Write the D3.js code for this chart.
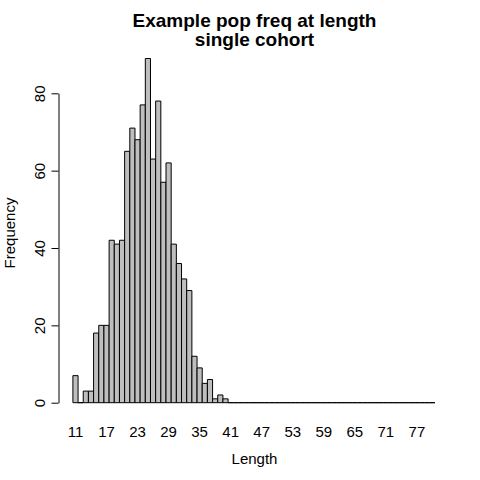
<!DOCTYPE html>
<html>
<head>
<meta charset="utf-8">
<script src="https://cdn.jsdelivr.net/npm/d3@7"></script>
<style>
  html, body { margin: 0; padding: 0; background: #fff; }
  text { font-family: "Liberation Sans", Arial, Helvetica, sans-serif; fill: #000; }
</style>
</head>
<body>
<svg id="chart" width="480" height="480"></svg>
<script>
// Data
const lengths = d3.range(11, 81); // 11..80
const freqs = [
  7, 0, 3, 3, 18, 20, 20, 42, 41, 42,
  65, 71, 68, 77, 89, 63, 78, 57, 62, 41,
  36, 32, 29, 12, 9, 5, 6, 1, 2, 1,
  0, 0, 0, 0, 0, 0, 0, 0, 0, 0,
  0, 0, 0, 0, 0, 0, 0, 0, 0, 0,
  0, 0, 0, 0, 0, 0, 0, 0, 0, 0,
  0, 0, 0, 0, 0, 0, 0, 0, 0, 0
];
const xTickLabels = [11, 17, 23, 29, 35, 41, 47, 53, 59, 65, 71, 77];
const yTicks = [0, 20, 40, 60, 80];
const titleLines = ["Example pop freq at length", "single cohort"];
const xLabel = "Length";
const yLabel = "Frequency";

const svg = d3.select("#chart");
const x = d3.scaleLinear().domain([10.5, 80.5]).range([72.9, 435]);
const y = d3.scaleLinear().domain([0, 80]).range([402.7, 93.3]);

// bars (paths so zero-height bars still draw as a line)
svg.append("g").selectAll("path")
  .data(lengths.map((l, i) => ({l, f: freqs[i]})))
  .join("path")
  .attr("d", d => {
    const x0 = x(d.l - 0.5), x1 = x(d.l + 0.5), y0 = y(0), y1 = y(d.f);
    return `M${x0},${y0}H${x1}V${y1}H${x0}Z`;
  })
  .attr("fill", "#bebebe")
  .attr("stroke", "#000")
  .attr("stroke-width", 1);

// y axis
const yAxis = d3.axisLeft(y).tickValues(yTicks).tickSize(7).tickSizeOuter(0);
const gy = svg.append("g").attr("transform", "translate(58.5,0)").call(yAxis);
gy.select(".domain").attr("stroke", "#000");
gy.selectAll(".tick line").attr("stroke", "#000");
gy.selectAll(".tick text").remove();
gy.selectAll(".tick").append("text")
  .attr("transform", "translate(-14,0) rotate(-90)")
  .attr("text-anchor", "middle")
  .attr("font-size", "15px")
  .text(d => d);

// x tick labels (no ticks, no line)
svg.append("g").selectAll("text")
  .data(xTickLabels)
  .join("text")
  .attr("x", d => x(d))
  .attr("y", 437)
  .attr("text-anchor", "middle")
  .attr("font-size", "15px")
  .text(d => d);

// titles
svg.append("g").selectAll("text")
  .data(titleLines)
  .join("text")
  .attr("x", 254.5)
  .attr("y", (d, i) => 27 + i * 19)
  .attr("text-anchor", "middle")
  .attr("font-size", "19px")
  .attr("font-weight", "bold")
  .text(d => d);

svg.append("text")
  .attr("x", 254.5).attr("y", 464)
  .attr("text-anchor", "middle")
  .attr("font-size", "15px")
  .text(xLabel);

svg.append("text")
  .attr("transform", "translate(15,233) rotate(-90)")
  .attr("text-anchor", "middle")
  .attr("font-size", "15px")
  .text(yLabel);
</script>
</body>
</html>
